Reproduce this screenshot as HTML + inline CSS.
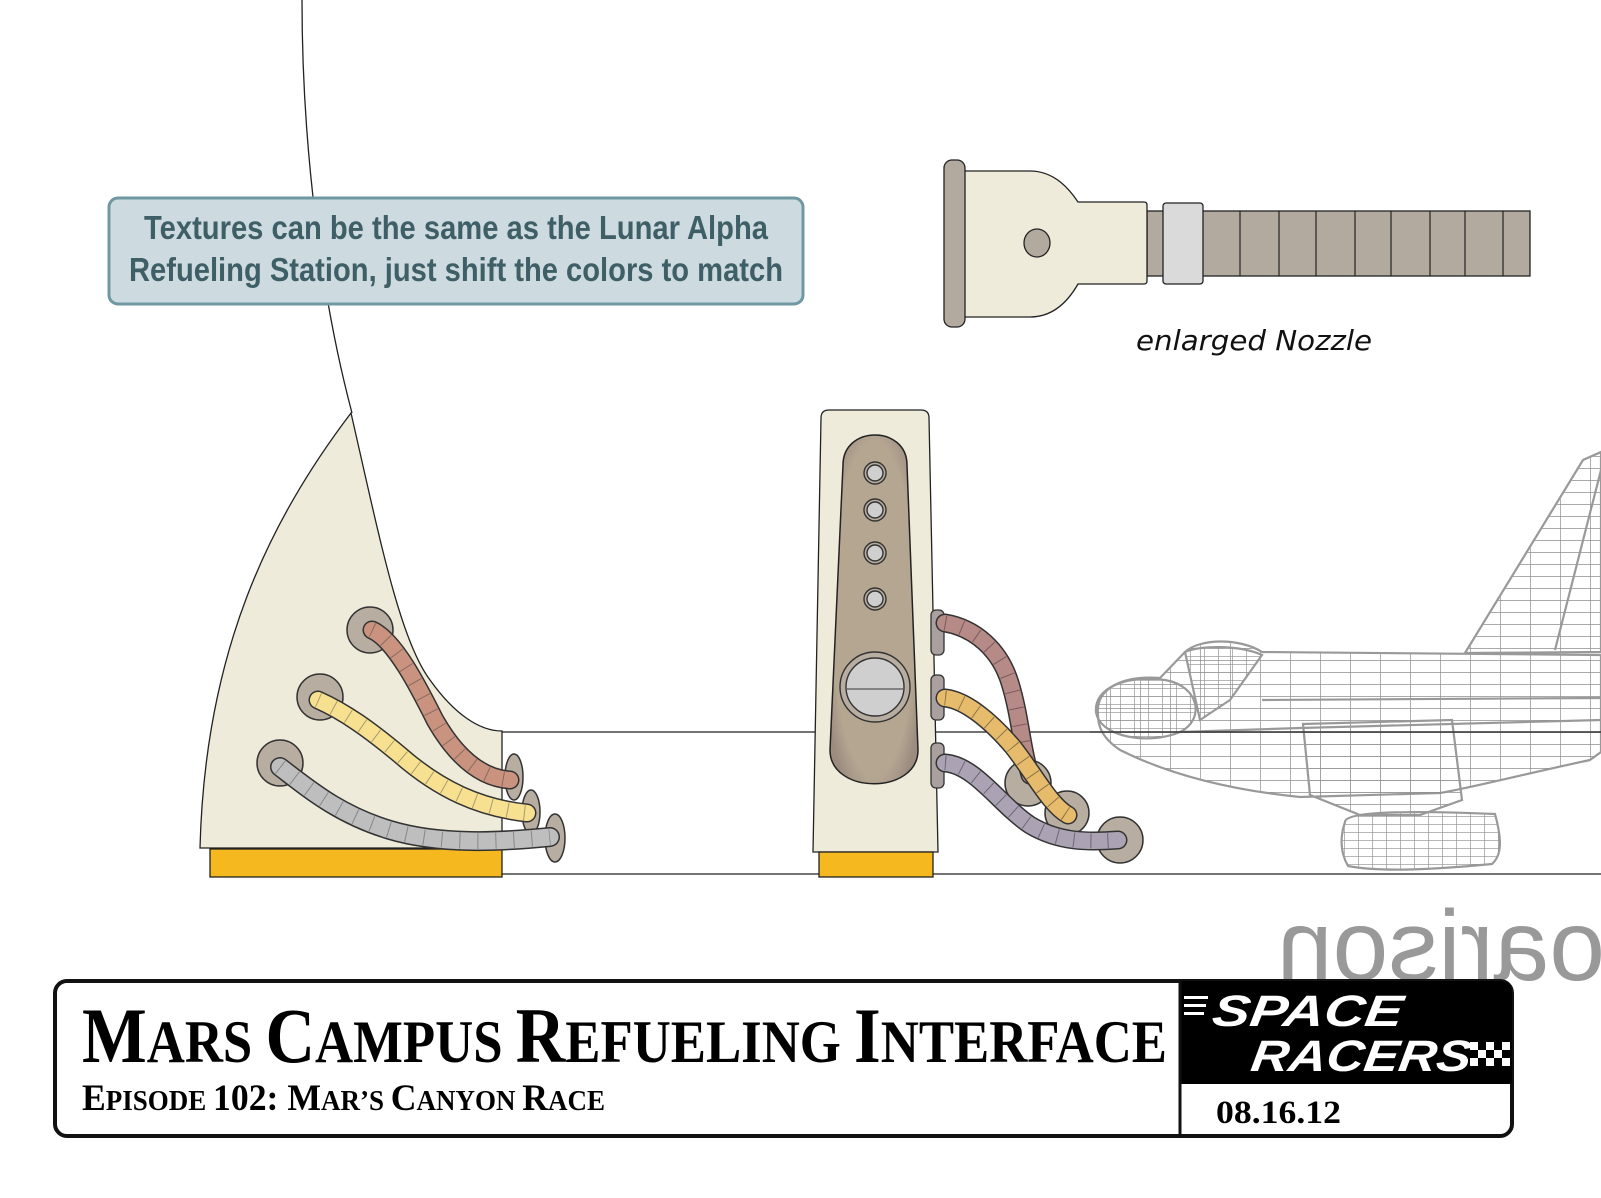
<!DOCTYPE html>
<html><head><meta charset="utf-8"><style>
html,body{margin:0;padding:0;background:#fff;}
svg{display:block;}
</style></head><body>
<svg width="1601" height="1198" viewBox="0 0 1601 1198" xmlns="http://www.w3.org/2000/svg">
<defs>
  <pattern id="grid" width="30" height="12" patternUnits="userSpaceOnUse">
    <path d="M0 0H30M0 0V12" stroke="#8e8e8e" stroke-width="1.4" fill="none"/>
  </pattern>
  <pattern id="grid2" width="14" height="8" patternUnits="userSpaceOnUse">
    <path d="M0 0H14M0 0V8" stroke="#8e8e8e" stroke-width="1.3" fill="none"/>
  </pattern>
  <radialGradient id="panelg" cx="50%" cy="50%" r="60%">
    <stop offset="80%" stop-color="#b5a692"/><stop offset="100%" stop-color="#9c8c80"/>
  </radialGradient>
</defs>

<!-- mirrored text behind box -->
<text transform="scale(-1,1)" x="-1277" y="980" text-anchor="end" font-family="Liberation Sans, sans-serif" font-size="100" fill="#999">oarison</text>

<!-- ground lines -->
<line x1="502" y1="732" x2="1601" y2="732" stroke="#222" stroke-width="1.3"/>
<line x1="502" y1="874" x2="1601" y2="874" stroke="#222" stroke-width="1.3"/>

<!-- left structure -->
<path d="M302,0 C302,150 322,300 352,413" fill="none" stroke="#222" stroke-width="1.3"/>
<path d="M351,413 C380,540 400,640 430,680 C455,715 480,731 502,731 L502,848 L200,848 C205,650 270,520 351,413 Z" fill="#efebda" stroke="#222" stroke-width="1.3"/>
<rect x="210" y="849" width="292" height="28" fill="#f6b81f" stroke="#222" stroke-width="1.3"/>

<!-- left hoses -->
<g stroke-linecap="round" fill="none">
  <circle cx="370" cy="630" r="23" fill="#b7ada0" stroke="#333" stroke-width="1.5"/>
  <circle cx="320" cy="697" r="23" fill="#b7ada0" stroke="#333" stroke-width="1.5"/>
  <circle cx="280" cy="763" r="23" fill="#b7ada0" stroke="#333" stroke-width="1.5"/>
  <ellipse cx="514" cy="777" rx="9" ry="23" fill="#b7ada0" stroke="#333" stroke-width="1.5"/>
  <ellipse cx="531" cy="812" rx="9" ry="22" fill="#b7ada0" stroke="#333" stroke-width="1.5"/>
  <ellipse cx="555" cy="838" rx="10" ry="24" fill="#b7ada0" stroke="#333" stroke-width="1.5"/>
  <path d="M372,630 C395,640 420,690 435,720 C455,755 480,778 510,780" stroke="#333" stroke-width="19"/>
  <path d="M372,630 C395,640 420,690 435,720 C455,755 480,778 510,780" stroke="#c9937f" stroke-width="16"/>
  <path d="M372,630 C395,640 420,690 435,720 C455,755 480,778 510,780" stroke="#8a6a60" stroke-width="15" stroke-dasharray="1 16" stroke-linecap="butt"/>
  <path d="M318,700 C345,712 370,730 400,755 C440,790 480,808 527,813" stroke="#333" stroke-width="19"/>
  <path d="M318,700 C345,712 370,730 400,755 C440,790 480,808 527,813" stroke="#f7e190" stroke-width="16"/>
  <path d="M318,700 C345,712 370,730 400,755 C440,790 480,808 527,813" stroke="#a99a70" stroke-width="15" stroke-dasharray="1 16" stroke-linecap="butt"/>
  <path d="M280,767 C310,790 340,815 390,830 C440,845 500,842 550,837" stroke="#333" stroke-width="20"/>
  <path d="M280,767 C310,790 340,815 390,830 C440,845 500,842 550,837" stroke="#bebebe" stroke-width="17"/>
  <path d="M280,767 C310,790 340,815 390,830 C440,845 500,842 550,837" stroke="#888" stroke-width="16" stroke-dasharray="1 17" stroke-linecap="butt"/>
</g>

<!-- callout -->
<rect x="109" y="198" width="694" height="106" rx="9" fill="#cddbe0" stroke="#6f98a3" stroke-width="3"/>
<g font-family="Liberation Sans Narrow, Liberation Sans, sans-serif" font-weight="bold" font-size="33" fill="#3f5f66" text-anchor="middle">
  <text x="456" y="239" textLength="624" lengthAdjust="spacingAndGlyphs">Textures can be the same as the Lunar Alpha</text>
  <text x="456" y="281" textLength="654" lengthAdjust="spacingAndGlyphs">Refueling Station, just shift the colors to match</text>
</g>

<!-- nozzle -->
<rect x="1147" y="211" width="383" height="65" fill="#b3aa9f" stroke="#222" stroke-width="1.3"/>
<g stroke="#222" stroke-width="1.2">
  <line x1="1240" y1="211" x2="1240" y2="276"/><line x1="1279" y1="211" x2="1279" y2="276"/>
  <line x1="1316" y1="211" x2="1316" y2="276"/><line x1="1355" y1="211" x2="1355" y2="276"/>
  <line x1="1391" y1="211" x2="1391" y2="276"/><line x1="1430" y1="211" x2="1430" y2="276"/>
  <line x1="1465" y1="211" x2="1465" y2="276"/><line x1="1503" y1="211" x2="1503" y2="276"/>
</g>
<rect x="1163" y="203" width="40" height="81" rx="3" fill="#dadada" stroke="#222" stroke-width="1.3"/>
<path d="M962,171 L1030,171 C1055,171 1070,190 1078,202 L1144,202 Q1147,202 1147,205 L1147,281 Q1147,284 1144,284 L1078,284 C1070,298 1055,317 1030,317 L962,317 Z" fill="#efebda" stroke="#222" stroke-width="1.3"/>
<rect x="944" y="160" width="21" height="167" rx="8" fill="#b3aa9f" stroke="#222" stroke-width="1.3"/>
<ellipse cx="1037" cy="243" rx="13" ry="14" fill="#b3aa9f" stroke="#222" stroke-width="1.3"/>
<text x="1136" y="350" font-family="DejaVu Sans, sans-serif" font-style="italic" font-size="28" fill="#111" textLength="236" lengthAdjust="spacingAndGlyphs">enlarged Nozzle</text>

<!-- station -->
<path d="M829,410 L921,410 Q929,410 929,418 L938,852 L813,852 L821,418 Q821,410 829,410 Z" fill="#efebda" stroke="#222" stroke-width="1.3"/>
<path d="M843,465 C843,425 907,425 907,465 L918,750 C918,795 830,795 830,750 Z" fill="url(#panelg)" stroke="#222" stroke-width="1.5"/>
<g fill="#cfcfcf" stroke="#333" stroke-width="1.4">
  <circle cx="875" cy="473" r="11" fill="#b7ada0"/><circle cx="875" cy="473" r="8"/>
  <circle cx="875" cy="510" r="11" fill="#b7ada0"/><circle cx="875" cy="510" r="8"/>
  <circle cx="875" cy="553" r="11" fill="#b7ada0"/><circle cx="875" cy="553" r="8"/>
  <circle cx="875" cy="599" r="11" fill="#b7ada0"/><circle cx="875" cy="599" r="8"/>
  <circle cx="875" cy="687" r="35" fill="#b7ada0"/><circle cx="875" cy="687" r="29"/>
</g>
<line x1="846" y1="689" x2="904" y2="689" stroke="#555" stroke-width="1.3"/>
<rect x="819" y="852" width="114" height="25" fill="#f6b81f" stroke="#222" stroke-width="1.3"/>
<g fill="#aaa0a0" stroke="#333" stroke-width="1.3">
  <rect x="931" y="610" width="13" height="45" rx="5"/>
  <rect x="931" y="675" width="13" height="45" rx="5"/>
  <rect x="931" y="743" width="13" height="45" rx="5"/>
</g>
<g fill="none" stroke-linecap="round">
  <circle cx="1028" cy="783" r="23" fill="#b7ada0" stroke="#333" stroke-width="1.5"/>
  <circle cx="1067" cy="813" r="22" fill="#b7ada0" stroke="#333" stroke-width="1.5"/>
  <circle cx="1120" cy="840" r="23" fill="#b7ada0" stroke="#333" stroke-width="1.5"/>
  <path d="M945,623 C975,628 1000,650 1010,683 C1020,715 1022,750 1030,775" stroke="#333" stroke-width="19"/>
  <path d="M945,623 C975,628 1000,650 1010,683 C1020,715 1022,750 1030,775" stroke="#b68a86" stroke-width="16"/>
  <path d="M945,623 C975,628 1000,650 1010,683 C1020,715 1022,750 1030,775" stroke="#7a5a5a" stroke-width="15" stroke-dasharray="1 16" stroke-linecap="butt"/>
  <path d="M945,698 C965,700 990,720 1013,747 C1035,775 1050,805 1068,815" stroke="#333" stroke-width="19"/>
  <path d="M945,698 C965,700 990,720 1013,747 C1035,775 1050,805 1068,815" stroke="#e6bb6c" stroke-width="16"/>
  <path d="M945,698 C965,700 990,720 1013,747 C1035,775 1050,805 1068,815" stroke="#8e7448" stroke-width="15" stroke-dasharray="1 16" stroke-linecap="butt"/>
  <path d="M945,763 C975,765 1000,805 1030,825 C1060,843 1090,842 1118,840" stroke="#333" stroke-width="19"/>
  <path d="M945,763 C975,765 1000,805 1030,825 C1060,843 1090,842 1118,840" stroke="#aba3b3" stroke-width="16"/>
  <path d="M945,763 C975,765 1000,805 1030,825 C1060,843 1090,842 1118,840" stroke="#6e6575" stroke-width="15" stroke-dasharray="1 16" stroke-linecap="butt"/>
</g>

<!-- plane wireframe -->
<g stroke="#999" stroke-width="2.2" fill="url(#grid)">
  <path d="M1465,653 L1583,460 L1601,452 L1601,652 Z"/>
  <path d="M1555,650 L1601,470" fill="none"/>
  <path d="M1098,715 C1095,690 1120,675 1160,678 L1185,652 C1200,638 1240,638 1262,652 L1601,655 L1601,752 L1590,760 C1520,775 1470,788 1440,793 L1300,797 C1230,790 1170,775 1120,750 C1102,738 1098,726 1098,715 Z"/>
  <path d="M1096,712 C1094,688 1125,675 1165,680 C1200,686 1205,720 1180,732 C1150,745 1100,738 1096,712 Z" fill="url(#grid2)"/>
  <path d="M1185,652 C1200,645 1240,645 1262,655 L1230,700 L1200,720 Z" fill="url(#grid2)"/>
  <path d="M1303,724 L1452,720 L1462,800 L1420,815 L1360,815 L1310,795 Z"/>
  <path d="M1345,822 C1345,812 1400,810 1495,814 C1502,840 1502,855 1492,864 C1430,870 1380,872 1348,866 C1340,852 1340,837 1345,822 Z" fill="url(#grid2)"/>
  <path d="M1262,700 L1601,698 M1180,732 L1300,728 L1601,720" fill="none"/>
</g>
<line x1="1090" y1="732" x2="1601" y2="732" stroke="#222" stroke-width="1.3"/>

<!-- title box -->
<rect x="55" y="981" width="1457" height="155" rx="12" fill="#fff" stroke="#111" stroke-width="4"/>
<path d="M1180,981 L1500,981 Q1512,981 1512,993 L1512,1084 L1180,1084 Z" fill="#000"/>
<line x1="1180" y1="981" x2="1180" y2="1136" stroke="#111" stroke-width="3"/>
<g font-family="Liberation Serif, serif" font-weight="bold" fill="#000">
  <text x="82" y="1062" textLength="1085" lengthAdjust="spacingAndGlyphs"><tspan font-size="78">M</tspan><tspan font-size="60">ARS </tspan><tspan font-size="78">C</tspan><tspan font-size="60">AMPUS </tspan><tspan font-size="78">R</tspan><tspan font-size="60">EFUELING </tspan><tspan font-size="78">I</tspan><tspan font-size="60">NTERFACE</tspan></text>
  <text x="82" y="1110" textLength="523" lengthAdjust="spacingAndGlyphs"><tspan font-size="37">E</tspan><tspan font-size="28">PISODE </tspan><tspan font-size="37">102: M</tspan><tspan font-size="28">AR’S </tspan><tspan font-size="37">C</tspan><tspan font-size="28">ANYON </tspan><tspan font-size="37">R</tspan><tspan font-size="28">ACE</tspan></text>
  <text x="1216" y="1123" font-size="33" textLength="125" lengthAdjust="spacingAndGlyphs">08.16.12</text>
</g>
<g font-family="Liberation Sans, sans-serif" font-weight="bold" font-style="italic" fill="#fff">
  <rect x="1184" y="996" width="24" height="3"/><rect x="1184" y="1004" width="22" height="3"/><rect x="1184" y="1012" width="20" height="3"/>
  <text x="1205" y="1026" font-size="44" textLength="190" lengthAdjust="spacingAndGlyphs" transform="skewX(-8) translate(150,0)">SPACE</text>
  <text x="1244" y="1071" font-size="44" textLength="220" lengthAdjust="spacingAndGlyphs" transform="skewX(-8) translate(156,0)">RACERS</text>
  <g fill="#fff">
    <rect x="1470" y="1042" width="8" height="8"/><rect x="1486" y="1042" width="8" height="8"/><rect x="1502" y="1042" width="8" height="8"/>
    <rect x="1478" y="1050" width="8" height="8"/><rect x="1494" y="1050" width="8" height="8"/>
    <rect x="1470" y="1058" width="8" height="8"/><rect x="1486" y="1058" width="8" height="8"/><rect x="1502" y="1058" width="8" height="8"/>
  </g>
</g>
</svg>
</body></html>
